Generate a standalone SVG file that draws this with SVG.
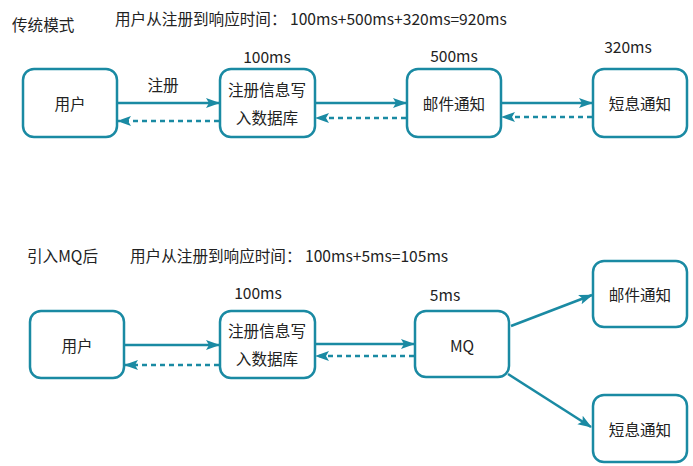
<svg xmlns="http://www.w3.org/2000/svg" width="693" height="466" viewBox="0 0 693 466">
<style>
text{font-family:"Noto Sans CJK SC","Microsoft YaHei","Noto Sans",sans-serif;font-size:15.6px;fill:#222;}
.box{fill:#fff;stroke:#1a8aa3;stroke-width:2.5;}
.c{text-anchor:middle;dominant-baseline:central;}
.ln{stroke:#1a8aa3;stroke-width:2.5;fill:none;marker-end:url(#ah);}
.dash{stroke-dasharray:5 4;}
</style>
<defs>
<marker id="ah" markerWidth="14" markerHeight="12" refX="13" refY="6" orient="auto" markerUnits="userSpaceOnUse">
<path d="M0,1 L14,6 L0,11 L3,6 z" fill="#1a8aa3"/>
</marker>
</defs>
<rect width="693" height="466" fill="#fff"/>
<g id="titles">
<text x="12" y="24" dominant-baseline="central">传统模式</text>
<text x="115" y="18" dominant-baseline="central">用户从注册到响应时间： 100ms+500ms+320ms=920ms</text>
<text x="27" y="255" dominant-baseline="central">引入MQ后</text>
<text x="130" y="255" dominant-baseline="central">用户从注册到响应时间： 100ms+5ms=105ms</text>
</g>
<g id="labels">
<text class="c" x="267" y="56">100ms</text>
<text class="c" x="454" y="55">500ms</text>
<text class="c" x="628" y="46">320ms</text>
<text class="c" x="163" y="84">注册</text>
<text class="c" x="258" y="292">100ms</text>
<text class="c" x="445" y="294">5ms</text>
</g>
<g id="connectors">
<line class="ln" x1="118" y1="103" x2="219" y2="103"/>
<line class="ln dash" x1="219" y1="121" x2="118" y2="121"/>
<line class="ln" x1="316" y1="103" x2="406" y2="103"/>
<line class="ln dash" x1="406" y1="118" x2="316" y2="118"/>
<line class="ln" x1="502" y1="103" x2="592" y2="103"/>
<line class="ln dash" x1="592" y1="117" x2="502" y2="117"/>
<line class="ln" x1="125" y1="345" x2="219" y2="345"/>
<line class="ln dash" x1="219" y1="365" x2="125" y2="365"/>
<line class="ln" x1="316" y1="344" x2="414" y2="344"/>
<line class="ln dash" x1="414" y1="356" x2="316" y2="356"/>
<line class="ln" x1="511" y1="326" x2="592" y2="295"/>
<line class="ln" x1="508" y1="374" x2="591" y2="427"/>
</g>
<g id="user1"><rect class="box" x="23" y="69" width="94" height="68" rx="11"/><text class="c" x="70" y="103">用户</text></g>
<g id="db1"><rect class="box" x="220" y="69" width="95" height="68" rx="11"/><text class="c" x="267" y="89">注册信息写</text><text class="c" x="267" y="117">入数据库</text></g>
<g id="mail1"><rect class="box" x="407" y="69" width="94" height="68" rx="11"/><text class="c" x="454" y="103">邮件通知</text></g>
<g id="sms1"><rect class="box" x="593" y="69" width="94" height="68" rx="11"/><text class="c" x="640" y="103">短息通知</text></g>
<g id="user2"><rect class="box" x="30" y="311" width="94" height="67" rx="11"/><text class="c" x="77" y="345">用户</text></g>
<g id="db2"><rect class="box" x="220" y="311" width="95" height="67" rx="11"/><text class="c" x="267" y="330">注册信息写</text><text class="c" x="267" y="358">入数据库</text></g>
<g id="mq"><rect class="box" x="415" y="311" width="94" height="66" rx="11"/><text class="c" x="462" y="345">MQ</text></g>
<g id="mail2"><rect class="box" x="593" y="261" width="94" height="66" rx="11"/><text class="c" x="640" y="294">邮件通知</text></g>
<g id="sms2"><rect class="box" x="593" y="395" width="94" height="67" rx="11"/><text class="c" x="640" y="429">短息通知</text></g>
</svg>
